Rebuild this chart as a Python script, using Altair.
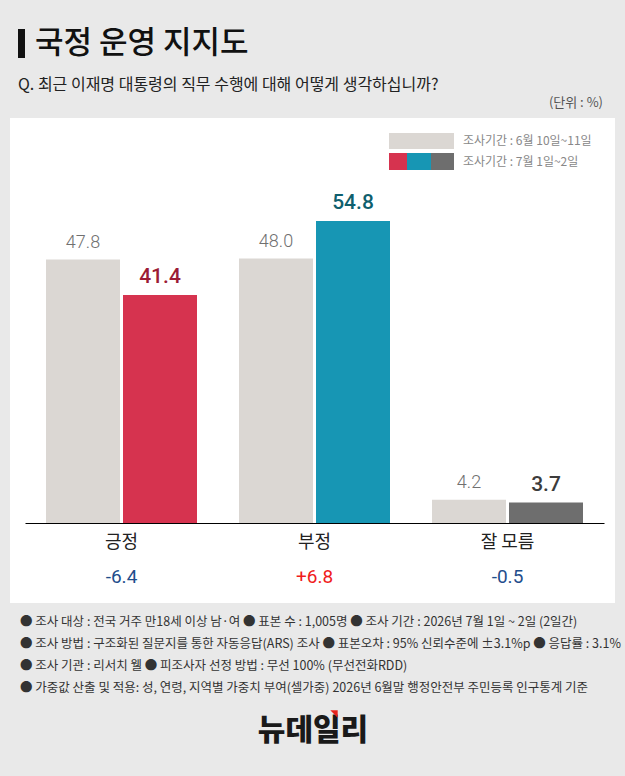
import altair as alt
import pandas as pd

# ---------------- data ----------------
categories = ["긍정", "부정", "잘 모름"]
prev_values = [47.8, 48.0, 4.2]
curr_values = [41.4, 54.8, 3.7]
diff_labels = ["-6.4", "+6.8", "-0.5"]
period_keys = ["prev", "curr"]
period_names = ["조사기간 : 6월 10일~11일", "조사기간 : 7월 1일~2일"]

title_text = "국정 운영 지지도"
question_text = "Q. 최근 이재명 대통령의 직무 수행에 대해 어떻게 생각하십니까?"
unit_text = "(단위 : %)"
notes = [
    "● 조사 대상 : 전국 거주 만18세 이상 남·여  ● 표본 수 : 1,005명 ● 조사 기간 : 2026년 7월 1일 ~ 2일 (2일간)",
    "● 조사 방법 : 구조화된 질문지를 통한 자동응답(ARS) 조사 ● 표본오차 : 95% 신뢰수준에 ±3.1%p  ● 응답률 : 3.1%",
    "● 조사 기관 : 리서치 웰  ● 피조사자 선정 방법 : 무선 100% (무선전화RDD)",
    "● 가중값 산출 및 적용: 성, 연령, 지역별 가중치 부여(셀가중) 2026년 6월말 행정안전부 주민등록 인구통계 기준",
]
logo_text = "뉴데일리"

FONT = "Noto Sans CJK KR"
NUM_FONT = "Roboto"

rows = []
for c, p, q in zip(categories, prev_values, curr_values):
    rows.append({"category": c, "period": "prev", "value": p, "key": "prev", "label": f"{p:.1f}"})
    rows.append({"category": c, "period": "curr", "value": q, "key": c, "label": f"{q:.1f}"})
bars_df = pd.DataFrame(rows)
diff_df = pd.DataFrame({
    "category": categories,
    "diff": diff_labels,
    "sign": ["neg" if d.startswith("-") else "pos" for d in diff_labels],
})
one = pd.DataFrame({"k": [0]})

# ---------------- encodings ----------------
x_enc = alt.X(
    "category:N", sort=categories,
    scale=alt.Scale(paddingInner=0.2176, paddingOuter=0.1088),
    axis=alt.Axis(title=None, labelAngle=0, ticks=False, domain=True, domainColor="#000",
                  domainWidth=1, labelFont=FONT, labelFontSize=18, labelColor="#222",
                  labelPadding=10, grid=False, zindex=1),
)
xo_enc = alt.XOffset("period:N", sort=period_keys,
                     scale=alt.Scale(paddingInner=0.039, paddingOuter=0))
y_enc = alt.Y("value:Q", scale=alt.Scale(domain=[0, 73.5]), axis=None)

bars = alt.Chart(bars_df).mark_bar().encode(
    x=x_enc, xOffset=xo_enc, y=y_enc,
    color=alt.Color("key:N",
                    scale=alt.Scale(domain=["prev"] + categories,
                                    range=["#dbd7d3", "#d6334f", "#1796b4", "#6e6e6e"]),
                    legend=None),
)

prev_lbl = alt.Chart(bars_df).transform_filter("datum.period == 'prev'").mark_text(
    font=NUM_FONT, fontSize=18, fontWeight=300, color="#707070", baseline="alphabetic", dy=-12
).encode(x=x_enc, xOffset=xo_enc, y=y_enc, text="label:N")

curr_lbl = alt.Chart(bars_df).transform_filter("datum.period == 'curr'").mark_text(
    font=NUM_FONT, fontSize=21, fontWeight=500, baseline="alphabetic", dy=-12
).encode(
    x=x_enc, xOffset=xo_enc, y=y_enc, text="label:N",
    color=alt.Color("category:N",
                    scale=alt.Scale(domain=categories, range=["#9b1b35", "#0f5f6e", "#3c3c3c"]),
                    legend=None),
)

diff_txt = alt.Chart(diff_df).mark_text(font=NUM_FONT, fontSize=19, baseline="middle").encode(
    x=x_enc, y=alt.value(459), text="diff:N",
    color=alt.Color("sign:N", scale=alt.Scale(domain=["neg", "pos"], range=["#1f4e8c", "#f01c1c"]),
                    legend=None),
)

# ---------------- decorations ----------------
def rect(x, x2, y, y2, color):
    return alt.Chart(one).mark_rect(color=color).encode(
        x=alt.value(x), x2=alt.value(x2), y=alt.value(y), y2=alt.value(y2))

def text(t, x, y, size, color="#222", align="left", weight="normal", font=FONT):
    return alt.Chart(one).mark_text(text=t, font=font, fontSize=size, color=color, align=align,
                                    baseline="middle", fontWeight=weight).encode(
        x=alt.value(x), y=alt.value(y))

panel = rect(-15, 590, 0, 485, "white")
title_bar = rect(-7, 0, -89, -60, "#111")
title = text(title_text, 10, -74, 31, "#111", weight=500)
question = text(question_text, -7, -33, 16, "#222")
unit = text(unit_text, 578, -15, 13, "#555", align="right")

leg1 = rect(364, 429, 15, 31, "#dbd7d3")
leg2a = rect(364, 382, 35, 52, "#d6334f")
leg2b = rect(382, 406, 35, 52, "#1796b4")
leg2c = rect(406, 429, 35, 52, "#6e6e6e")
leg_t1 = text(period_names[0], 438, 23, 12, "#888")
leg_t2 = text(period_names[1], 438, 44, 12, "#888")

note_layers = [text(n, -5, 504 + i * 22, 12.5, "#333") for i, n in enumerate(notes)]

logo = text(logo_text, 288, 613, 30, "#1a1a1a", align="center", weight=900)
logo_mark = alt.Chart(one).mark_point(shape="M-1,-1L1,-1L1,1Z", filled=True, color="#e8241c",
                                      opacity=1, size=55).encode(
    x=alt.value(309), y=alt.value(596))

chart = alt.layer(
    panel, title_bar, title, question, unit,
    leg1, leg2a, leg2b, leg2c, leg_t1, leg_t2,
    bars, prev_lbl, curr_lbl, diff_txt,
    *note_layers, logo, logo_mark,
).resolve_scale(color="independent").properties(
    width=579, height=405,
    padding={"left": 25, "top": 118, "right": 21, "bottom": 253},
    autosize=alt.AutoSizeParams(type="none"),
).configure(background="#e9e9e9").configure_view(stroke=None)

chart.save("out.html", embed_options={"renderer": "svg", "actions": False})
